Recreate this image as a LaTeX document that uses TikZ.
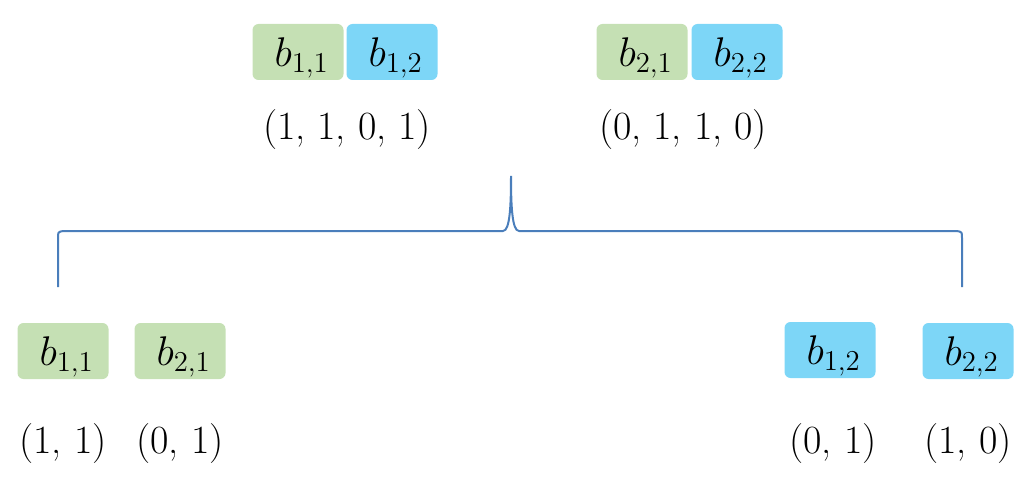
\documentclass[tikz,border=0pt]{standalone}
\usetikzlibrary{calc}
\definecolor{cellgreen}{HTML}{C5E0B4}
\definecolor{cellblue}{HTML}{7DD6F7}
\definecolor{bracecol}{HTML}{4A7EBB}
\tikzset{cell/.style={rounded corners=3pt,minimum width=45.5pt,minimum height=28pt,inner sep=0pt,text depth=0pt,font=\fontsize{22}{26}\selectfont},
  gcell/.style={cell,fill=cellgreen},
  bcell/.style={cell,fill=cellblue},
  vec/.style={inner sep=0pt,font=\fontsize{20}{24}\selectfont}}

\begin{document}
\begin{tikzpicture}[x=.5pt,y=-.5pt]
\useasboundingbox (0,0) rectangle (1023,481);
% joined blocks
\node[gcell] (b11) at (298,52) {\,$b_{1,1}$};
\node[bcell] (b12) at (392,52) {\,$b_{1,2}$};
\node[gcell] (b21) at (642,52) {\,$b_{2,1}$};
\node[bcell] (b22) at (737,52) {\,$b_{2,2}$};
\node[vec] (v1) at (347,130) {(1, 1, 0, 1)};
\node[vec] (v2) at (683,130) {(0, 1, 1, 0)};
% brace
\coordinate (L) at (58,287);
\coordinate (R) at (962,287);
\coordinate (T) at (511,176);
\draw[bracecol,line width=1pt] (L) -- (58,238) .. controls (58,232) .. (63,231) -- (503,231)
  .. controls (510,231) and (511,205) .. (T) .. controls (511,205) and (512,231) .. (519,231)
  -- (957,231) .. controls (962,232) .. (962,238) -- (R);
% split blocks
\node[gcell] (c11) at (63,351) {\,$b_{1,1}$};
\node[gcell] (c21) at (180,351) {\,$b_{2,1}$};
\node[bcell] (c12) at (830,350) {\,$b_{1,2}$};
\node[bcell] (c22) at (968,351) {\,$b_{2,2}$};
\node[vec] (w11) at (63,444) {(1, 1)};
\node[vec] (w21) at (180,444) {(0, 1)};
\node[vec] (w12) at (833,444) {(0, 1)};
\node[vec] (w22) at (968,444) {(1, 0)};
\end{tikzpicture}
\end{document}
